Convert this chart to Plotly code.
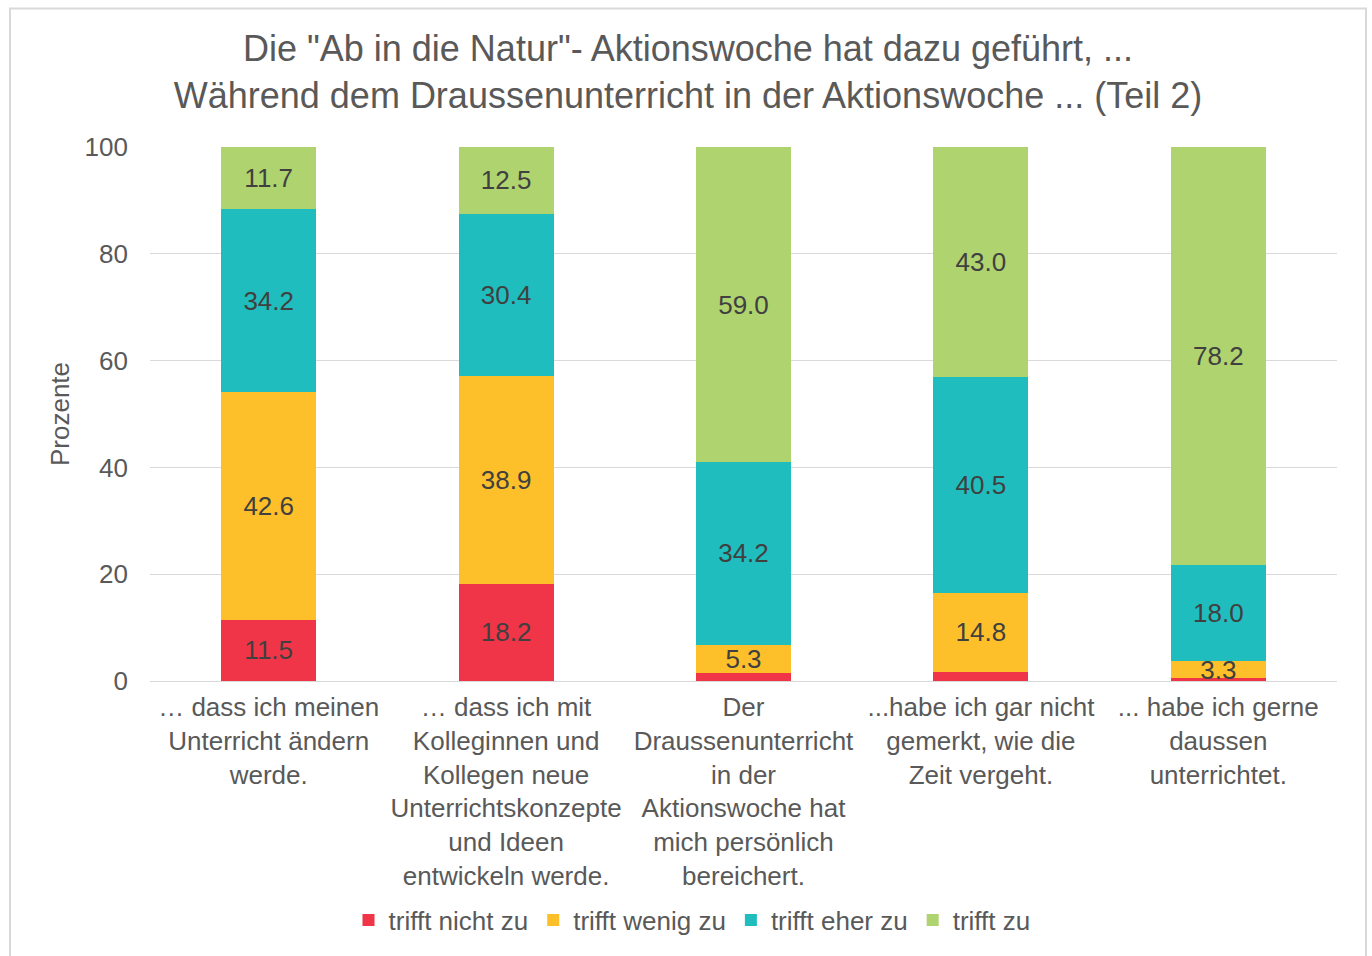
import plotly.graph_objects as go

categories = [
    "… dass ich meinen<br>Unterricht ändern<br>werde.",
    "… dass ich mit<br>Kolleginnen und<br>Kollegen neue<br>Unterrichtskonzepte<br>und Ideen<br>entwickeln werde.",
    "Der<br>Draussenunterricht<br>in der<br>Aktionswoche hat<br>mich persönlich<br>bereichert.",
    "...habe ich gar nicht<br>gemerkt, wie die<br>Zeit vergeht.",
    "... habe ich gerne<br>daussen<br>unterrichtet.",
]
series_names = ["trifft nicht zu", "trifft wenig zu", "trifft eher zu", "trifft zu"]
trifft_nicht_zu = [11.5, 18.2, 1.5, 1.7, 0.5]
trifft_wenig_zu = [42.6, 38.9, 5.3, 14.8, 3.3]
trifft_eher_zu = [34.2, 30.4, 34.2, 40.5, 18.0]
trifft_zu = [11.7, 12.5, 59.0, 43.0, 78.2]
colors = ["#EF3547", "#FDC02A", "#20BDBE", "#AFD36F"]
y_ticks = [0, 20, 40, 60, 80, 100]

FONT = "Liberation Sans, Arial, sans-serif"
TXT = "#595959"

fig = go.Figure()
for name, vals, col in zip(series_names,
                           [trifft_nicht_zu, trifft_wenig_zu, trifft_eher_zu, trifft_zu],
                           colors):
    labels = [f"{v:.1f}" if v >= 3 else "" for v in vals]
    fig.add_trace(go.Bar(
        x=list(range(len(categories))), y=vals, name=name,
        marker=dict(color=col, line=dict(width=0)),
        text=labels, textposition="inside", insidetextanchor="middle",
        textangle=0, cliponaxis=False, constraintext="none",
        textfont=dict(family=FONT, size=26, color="#404040"),
        hoverinfo="skip",
    ))

W, H = 1372, 956
L, R, T, B = 150, 35, 147, 273
pw, ph = W - L - R, H - T - B

fig.update_layout(
    width=W, height=H,
    barmode="stack", bargap=0.6,
    paper_bgcolor="white", plot_bgcolor="white",
    margin=dict(l=L, r=R, t=T, b=B),
    uniformtext=dict(mode=False),
    title=dict(
        text='Die "Ab in die Natur"- Aktionswoche hat dazu geführt, ...<br>Während dem Draussenunterricht in der Aktionswoche ... (Teil 2)',
        x=(688 - L) / pw, xref="paper", xanchor="center",
        y=1 - 61 / H, yanchor="top",
        font=dict(family=FONT, size=36, color=TXT),
    ),
    font=dict(family=FONT, color=TXT),
    xaxis=dict(
        tickmode="array", tickvals=list(range(len(categories))), ticktext=categories,
        range=[-0.5, 4.5], showgrid=False, ticks="", showline=False,
        ticklabelstandoff=8,
        tickfont=dict(family=FONT, size=26, color=TXT),
    ),
    yaxis=dict(
        range=[0, 100.0001], tickvals=y_ticks, showgrid=True, gridcolor="#D9D9D9",
        gridwidth=1, zeroline=True, zerolinecolor="#D9D9D9", zerolinewidth=1,
        showline=False, ticks="", ticklen=0, ticklabelstandoff=21,
        tickfont=dict(family=FONT, size=26, color=TXT),
        title=dict(text="Prozente", font=dict(family=FONT, size=26, color=TXT), standoff=7),
    ),
    legend=dict(
        orientation="h", x=(692 - L) / pw, xanchor="center",
        y=-(923 - T - ph) / ph, yanchor="middle",
        font=dict(family=FONT, size=26, color=TXT),
        traceorder="normal", itemclick=False,
    ),
    showlegend=True,
)

fig.add_shape(
    type="rect", xref="paper", yref="paper",
    x0=(10 - L) / pw, x1=(1366 - L) / pw,
    y0=-(H + 10 - T - ph) / ph, y1=(T + ph - 8) / ph,
    line=dict(color="#D9D9D9", width=2), fillcolor="rgba(0,0,0,0)", layer="below",
)

fig.write_html(
    "out.html",
    config={"displayModeBar": False},
    post_script="document.body.style.margin='0';document.body.style.overflow='hidden';",
)
